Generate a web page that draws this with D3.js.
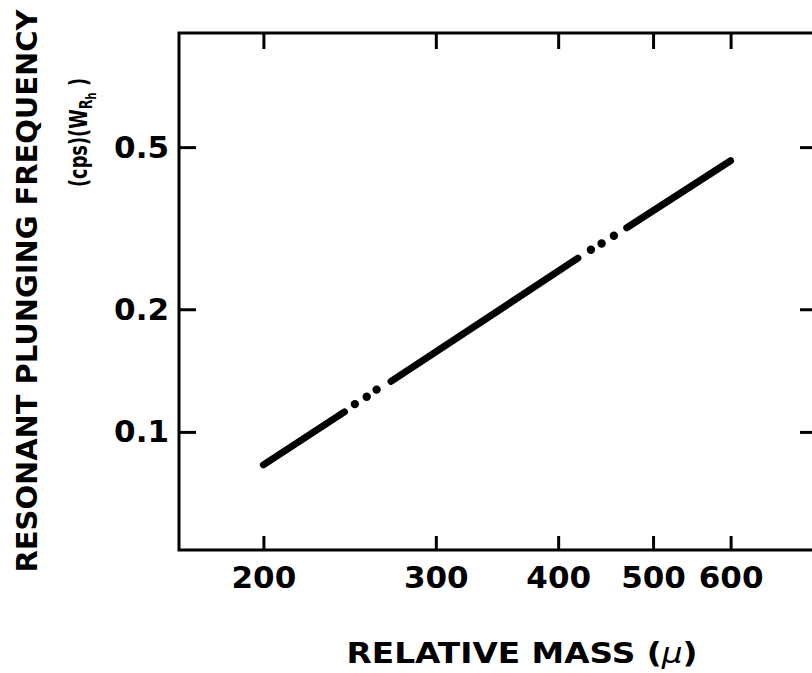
<!DOCTYPE html>
<html>
<head>
<meta charset="utf-8">
<script src="https://cdn.jsdelivr.net/npm/d3@7"></script>
<style>
  body { margin: 0; background: #fff; }
  svg { display: block; }
  text { font-family: "DejaVu Sans", sans-serif; font-weight: bold; fill: #000; }
</style>
</head>
<body>
<svg id="chart" width="812" height="673"></svg>
<script>
// Data
const massTicks = [200, 300, 400, 500, 600];
const freqTicks = [0.1, 0.2, 0.5];
const freqTickLabels = ['0.1', '0.2', '0.5'];
const massDomain = [164, 730];
const freqDomain = [0.0513, 0.953];

// solid pieces of the curve, [mass, frequency]
const solidSegments = [
    [[200, 0.083], [242, 0.112]],
    [[270, 0.133], [419, 0.267]],
    [[470, 0.317], [600, 0.463]]
];
// dotted gaps between them
const dotPoints = [
    [248, 0.117], [255, 0.122], [261, 0.127],
    [432, 0.280], [443, 0.290], [456, 0.303]
];

const svg = d3.select('#chart');
const margin = { top: 33, left: 179, bottom: 123, right: -2 };
const width = 812 - margin.left - margin.right;
const height = 673 - margin.top - margin.bottom;

const x = d3.scaleLog().domain(massDomain).range([0, width]);
const y = d3.scaleLog().domain(freqDomain).range([height, 0]);

const g = svg.append('g')
    .attr('transform', `translate(${margin.left},${margin.top})`);

// Frame
g.append('rect')
    .attr('width', width)
    .attr('height', height)
    .attr('fill', 'none')
    .attr('stroke', '#000')
    .attr('stroke-width', 3);

// Axes (ticks point inward)
const xAxisBottom = g.append('g')
    .attr('transform', `translate(0,${height})`)
    .call(d3.axisBottom(x).tickValues(massTicks).tickSize(-14).tickPadding(16)
        .tickFormat(d3.format('d')));

const xAxisTop = g.append('g')
    .call(d3.axisTop(x).tickValues(massTicks).tickSize(-16).tickFormat(''));

const yAxisLeft = g.append('g')
    .call(d3.axisLeft(y).tickValues(freqTicks).tickSize(-17).tickPadding(10)
        .tickFormat((d, i) => freqTickLabels[i]));

const yAxisRight = g.append('g')
    .attr('transform', `translate(${width},0)`)
    .call(d3.axisRight(y).tickValues(freqTicks).tickSize(-14).tickFormat(''));

[xAxisBottom, xAxisTop, yAxisLeft, yAxisRight].forEach(a => {
    a.select('.domain').remove();
    a.selectAll('.tick line').attr('stroke', '#000').attr('stroke-width', 3);
    a.selectAll('.tick text')
        .style('font-family', '"DejaVu Sans", sans-serif')
        .style('font-weight', 'bold')
        .style('font-size', '31px')
        .attr('fill', '#000');
});

// Curve
const line = d3.line().x(d => x(d[0])).y(d => y(d[1]));

g.selectAll('.seg')
    .data(solidSegments)
    .enter()
    .append('path')
    .attr('class', 'seg')
    .attr('d', line)
    .attr('fill', 'none')
    .attr('stroke', '#000')
    .attr('stroke-width', 7)
    .attr('stroke-linecap', 'round');

g.selectAll('.dot')
    .data(dotPoints)
    .enter()
    .append('circle')
    .attr('class', 'dot')
    .attr('cx', d => x(d[0]))
    .attr('cy', d => y(d[1]))
    .attr('r', 4.2)
    .attr('fill', '#000');

// Axis titles
const xt = svg.append('text')
    .attr('x', 522)
    .attr('y', 663)
    .attr('text-anchor', 'middle')
    .attr('textLength', 351)
    .attr('lengthAdjust', 'spacingAndGlyphs')
    .style('font-size', '29px');
xt.append('tspan').text('RELATIVE MASS (');
xt.append('tspan').style('font-style', 'italic').style('font-weight', 'normal').text('μ');
xt.append('tspan').text(')');

svg.append('text')
    .attr('transform', 'rotate(-90)')
    .attr('x', -291)
    .attr('y', 37)
    .attr('text-anchor', 'middle')
    .attr('textLength', 563)
    .attr('lengthAdjust', 'spacingAndGlyphs')
    .style('font-size', '29px')
    .text('RESONANT PLUNGING FREQUENCY');

const yt2 = svg.append('text')
    .attr('transform', 'rotate(-90)')
    .attr('x', -187)
    .attr('y', 87)
    .attr('text-anchor', 'start')
    .attr('textLength', 109)
    .attr('lengthAdjust', 'spacingAndGlyphs')
    .style('font-size', '25px');
yt2.append('tspan').text('(cps)(W');
yt2.append('tspan').attr('dy', 5).style('font-size', '18px').text('R');
yt2.append('tspan').attr('dy', 4).style('font-size', '14px').text('h');
yt2.append('tspan').attr('dy', -9).text(' )');
</script>
</body>
</html>
